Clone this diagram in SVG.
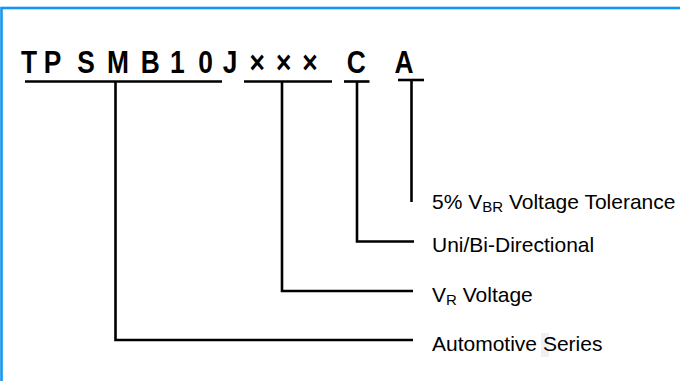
<svg xmlns="http://www.w3.org/2000/svg" width="680" height="381" viewBox="0 0 680 381">
<style>
.title{font-family:"Liberation Sans",Arial,sans-serif;font-weight:bold;font-size:31px;fill:#000;text-anchor:middle}
.lbl{font-family:"Liberation Sans",Arial,sans-serif;font-size:21px;fill:#000}
.sub{font-size:15px}
.ln{stroke:#000;stroke-width:2.6;fill:none;stroke-linecap:butt}
</style>
<rect width="680" height="381" fill="#fff"/>
<rect x="1.5" y="8" width="700" height="400" fill="none" stroke="#1496f2" stroke-width="2.6"/>
<g id="title">
<text class="title" transform="scale(0.85,1)" y="73" x="34.1 61.8 101.2 138.8 176.9 208.7 241.8 270.7 302.7 333.8 364.7 419.2 475.3">TPSMB10J×××CA</text>
</g>
<g id="connectors">
<line class="ln" x1="25" y1="81.5" x2="222" y2="81.5" stroke="#333"/>
<line class="ln" x1="244" y1="81.5" x2="332" y2="81.5"/>
<line class="ln" x1="344" y1="81.5" x2="369.5" y2="81.5"/>
<line class="ln" x1="398" y1="80" x2="424" y2="80"/>
<polyline class="ln" points="115.5,81.5 115.5,340 413,340"/>
<polyline class="ln" points="282,81.5 282,291 413,291"/>
<polyline class="ln" points="357,81.5 357,241.5 414,241.5"/>
<line class="ln" x1="411.5" y1="80" x2="411.5" y2="202"/>
</g>
<g id="label-tolerance">
<text class="lbl" x="432" y="209">5% V<tspan class="sub" dy="3">BR</tspan><tspan dy="-3"> Voltage Tolerance</tspan></text>
</g>
<g id="label-direction">
<text class="lbl" x="432" y="252">Uni/Bi-Directional</text>
</g>
<g id="label-vr">
<text class="lbl" x="432" y="302">V<tspan class="sub" dy="3">R</tspan><tspan dy="-3"> Voltage</tspan></text>
</g>
<g id="label-series">
<rect x="541" y="333" width="8" height="24" fill="#f0f0f0"/>
<text class="lbl" x="432" y="351">Automotive Series</text>
</g>
</svg>
